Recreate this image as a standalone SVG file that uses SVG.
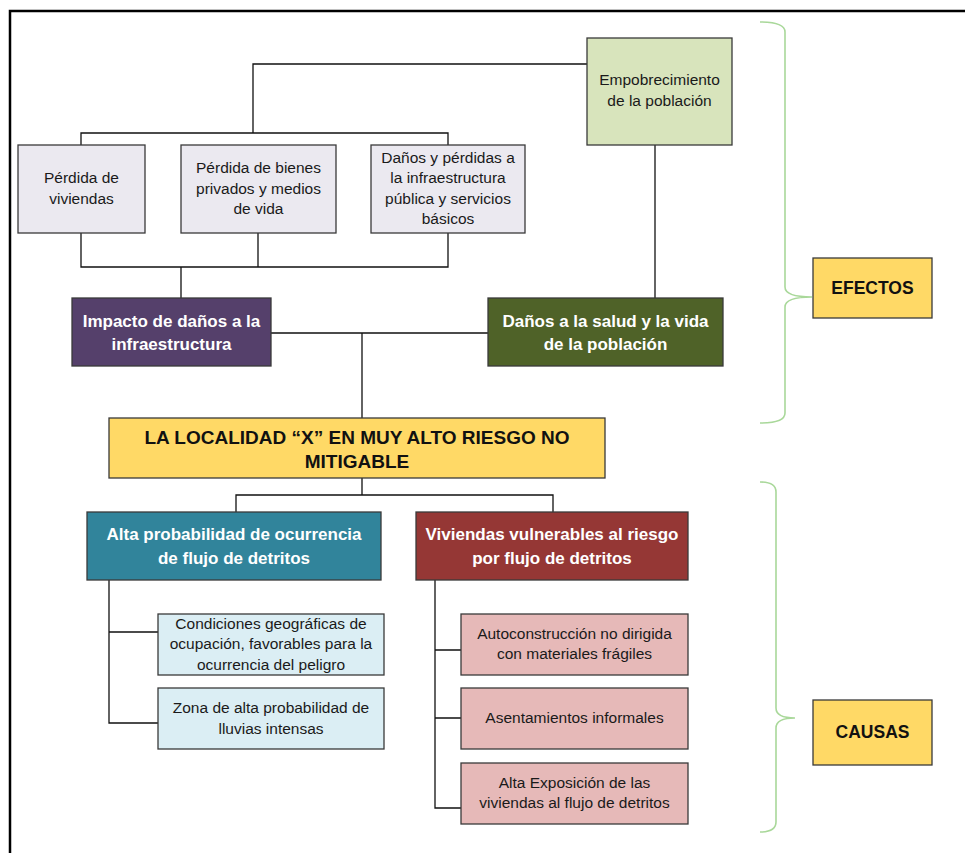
<svg xmlns="http://www.w3.org/2000/svg" width="965" height="853" viewBox="0 0 965 853">
<style>
.box{stroke:#3a3a3a;stroke-width:1.3}
.t{font-family:"Liberation Sans",Arial,sans-serif;font-size:15.5px;fill:#1a1a1a;text-anchor:middle}
.b{font-family:"Liberation Sans",Arial,sans-serif;font-size:17px;font-weight:bold;fill:#ffffff;text-anchor:middle}
.k{font-family:"Liberation Sans",Arial,sans-serif;font-size:19px;font-weight:bold;fill:#111111;text-anchor:middle}
.c{fill:none;stroke:#111;stroke-width:1.3}
.br{fill:none;stroke:#a9d89a;stroke-width:1.6}
</style>
<rect width="965" height="853" fill="#ffffff"/>
<path d="M10,853 V11 H965" fill="none" stroke="#000" stroke-width="2.5"/>
<g id="connectors">
<path class="c" d="M587,64 H253 V133"/>
<path class="c" d="M81,145 V133 H448 V145"/>
<path class="c" d="M81,233 V267 H448 V233 M258,233 V267 M181,267 V298"/>
<path class="c" d="M655,145 V298"/>
<path class="c" d="M271,333 H488 M362,333 V418"/>
<path class="c" d="M362,478 V495 M236,512 V495 H553 V512"/>
<path class="c" d="M109,580 V723 H158 M109,632 H158"/>
<path class="c" d="M435,580 V808 H461 M435,650 H461 M435,718 H461"/>
</g>
<g id="brace-efectos"><path class="br" d="M760,22 Q785,22 785,32 V287 Q785,297 812,297 Q785,297 785,307 V413 Q785,423 760,423"/></g>
<g id="brace-causas"><path class="br" d="M760,482 Q776,482 776,492 V708 Q776,718 795,718 Q776,718 776,728 V822 Q776,832 760,832"/></g>
<g id="empobrecimiento"><rect class="box" x="587" y="38" width="145" height="107" fill="#d8e4bc"/>
<text class="t" x="659.5" y="85">Empobrecimiento</text><text class="t" x="659.5" y="106">de la población</text></g>
<g id="perdida-viviendas"><rect class="box" x="18" y="145" width="127" height="88" fill="#ebe9f0"/>
<text class="t" x="81.5" y="183">Pérdida de</text><text class="t" x="81.5" y="204">viviendas</text></g>
<g id="perdida-bienes"><rect class="box" x="181" y="145" width="155" height="88" fill="#ebe9f0"/>
<text class="t" x="258.5" y="173">Pérdida de bienes</text><text class="t" x="258.5" y="194">privados y medios</text><text class="t" x="258.5" y="214">de vida</text></g>
<g id="danos-infra"><rect class="box" x="371" y="145" width="154" height="88" fill="#ebe9f0"/>
<text class="t" x="448" y="163">Daños y pérdidas a</text><text class="t" x="448" y="183">la infraestructura</text><text class="t" x="448" y="204">pública y servicios</text><text class="t" x="448" y="224">básicos</text></g>
<g id="impacto"><rect class="box" x="72" y="298" width="199" height="68" fill="#55406b"/>
<text class="b" x="171.5" y="327">Impacto de daños a la</text><text class="b" x="171.5" y="350">infraestructura</text></g>
<g id="salud"><rect class="box" x="488" y="298" width="235" height="68" fill="#4f6228"/>
<text class="b" x="605.5" y="327">Daños a la salud y la vida</text><text class="b" x="605.5" y="350">de la población</text></g>
<g id="localidad"><rect class="box" x="109" y="418" width="496" height="60" fill="#ffd966"/>
<text class="k" x="357" y="444">LA LOCALIDAD “X” EN MUY ALTO RIESGO NO</text><text class="k" x="357" y="468">MITIGABLE</text></g>
<g id="alta-prob"><rect class="box" x="87" y="512" width="294" height="68" fill="#31849b"/>
<text class="b" x="234" y="540">Alta probabilidad de ocurrencia</text><text class="b" x="234" y="564">de flujo de detritos</text></g>
<g id="viviendas-vuln"><rect class="box" x="416" y="512" width="272" height="68" fill="#953735"/>
<text class="b" x="552" y="540">Viviendas vulnerables al riesgo</text><text class="b" x="552" y="564">por flujo de detritos</text></g>
<g id="condiciones"><rect class="box" x="158" y="614" width="226" height="61" fill="#dbeef4"/>
<text class="t" x="271" y="629">Condiciones geográficas de</text><text class="t" x="271" y="649">ocupación, favorables para la</text><text class="t" x="271" y="670">ocurrencia del peligro</text></g>
<g id="zona"><rect class="box" x="158" y="688" width="226" height="61" fill="#dbeef4"/>
<text class="t" x="271" y="713">Zona de alta probabilidad de</text><text class="t" x="271" y="734">lluvias intensas</text></g>
<g id="autoconstruccion"><rect class="box" x="461" y="614" width="227" height="61" fill="#e6b9b8"/>
<text class="t" x="574.5" y="639">Autoconstrucción no dirigida</text><text class="t" x="574.5" y="659">con materiales frágiles</text></g>
<g id="asentamientos"><rect class="box" x="461" y="688" width="227" height="61" fill="#e6b9b8"/>
<text class="t" x="574.5" y="723">Asentamientos informales</text></g>
<g id="exposicion"><rect class="box" x="461" y="763" width="227" height="61" fill="#e6b9b8"/>
<text class="t" x="574.5" y="788">Alta Exposición de las</text><text class="t" x="574.5" y="808">viviendas al flujo de detritos</text></g>
<g id="efectos"><rect class="box" x="813" y="258" width="119" height="60" fill="#ffd966"/>
<text class="k" x="872.5" y="294" style="font-size:17.5px">EFECTOS</text></g>
<g id="causas"><rect class="box" x="813" y="700" width="119" height="65" fill="#ffd966"/>
<text class="k" x="872.5" y="738" style="font-size:17.5px">CAUSAS</text></g>
</svg>
